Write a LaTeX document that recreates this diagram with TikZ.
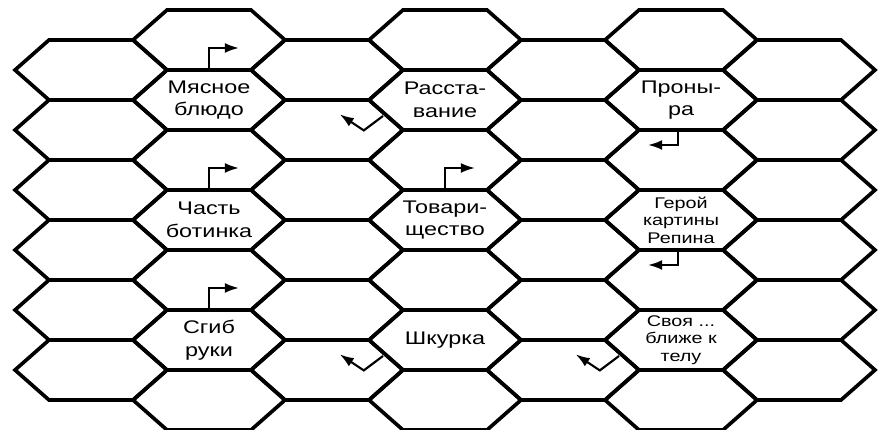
\documentclass[tikz,border=0pt]{standalone}
\usepackage{fontspec}
\setmainfont{Liberation Sans}[FakeStretch=1.28]
\usetikzlibrary{calc,arrows.meta}

\begin{document}
\begin{tikzpicture}[line join=miter]
		\tikzstyle{hexa}=[line width=2.6pt];
		\tikzstyle{turn}=[line width=1.5pt,-{Latex[length=10pt,width=7pt]}];
		\tikzstyle{clue}=[align=center,font=\fontsize{13}{16}\selectfont];
		\tikzstyle{long clue}=[align=center,font=\fontsize{11}{12.5}\selectfont];
		\useasboundingbox (0,0) rectangle (22.325,10.75);
		% honeycomb, odd columns shifted up by half a cell
		\foreach \i in {0,...,6}{
			\pgfmathtruncatemacro\odd{mod(\i,2)}
			\pgfmathtruncatemacro\last{5+\odd}
			\foreach \j in {0,...,\last}{
				\coordinate (h-\i-\j) at ({2.275+2.95*\i},{9+0.75*\odd-1.5*\j});
				\draw[hexa] (h-\i-\j) ++(-1.9,0) -- ++(0.85,0.75) -- ++(2.1,0) -- ++(0.85,-0.75) -- ++(-0.85,-0.75) -- ++(-2.1,0) -- cycle;
			}
		}
		\node[clue] (bludo) at (h-1-1) {Мясное\\блюдо};
		\node[clue] (chast) at (h-1-3) {Часть\\ботинка};
		\node[clue] (sgib) at (h-1-5) {Сгиб\\руки};
		\node[clue] (rasst) at (h-3-1) {Расста-\\вание};
		\node[clue] (tovar) at (h-3-3) {Товари-\\щество};
		\node[clue] (shkurka) at (h-3-5) {Шкурка};
		\node[clue] (pronyra) at (h-5-1) {Проны-\\ра};
		\node[long clue] (geroy) at (h-5-3) {Герой\\картины\\Репина};
		\node[long clue] (svoya) at (h-5-5) {Своя ...\\ближе к\\телу};
		% turns
		\foreach \c in {h-1-1,h-1-3,h-1-5,h-3-3}
			\draw[turn] ($(\c)+(0,0.75)$) |- ++(0.75,0.55);
		\foreach \c in {h-5-1,h-5-3}
			\draw[turn] ($(\c)+(-0.075,-0.75)$) |- ++(-0.75,-0.375);
		\foreach \c in {h-3-1,h-3-5,h-5-5}
			\draw[turn] ($(\c)+(-1.55,-0.4)$) -- ++(-0.48,-0.36) -- ++(-0.6,0.4);
\end{tikzpicture}
\end{document}
